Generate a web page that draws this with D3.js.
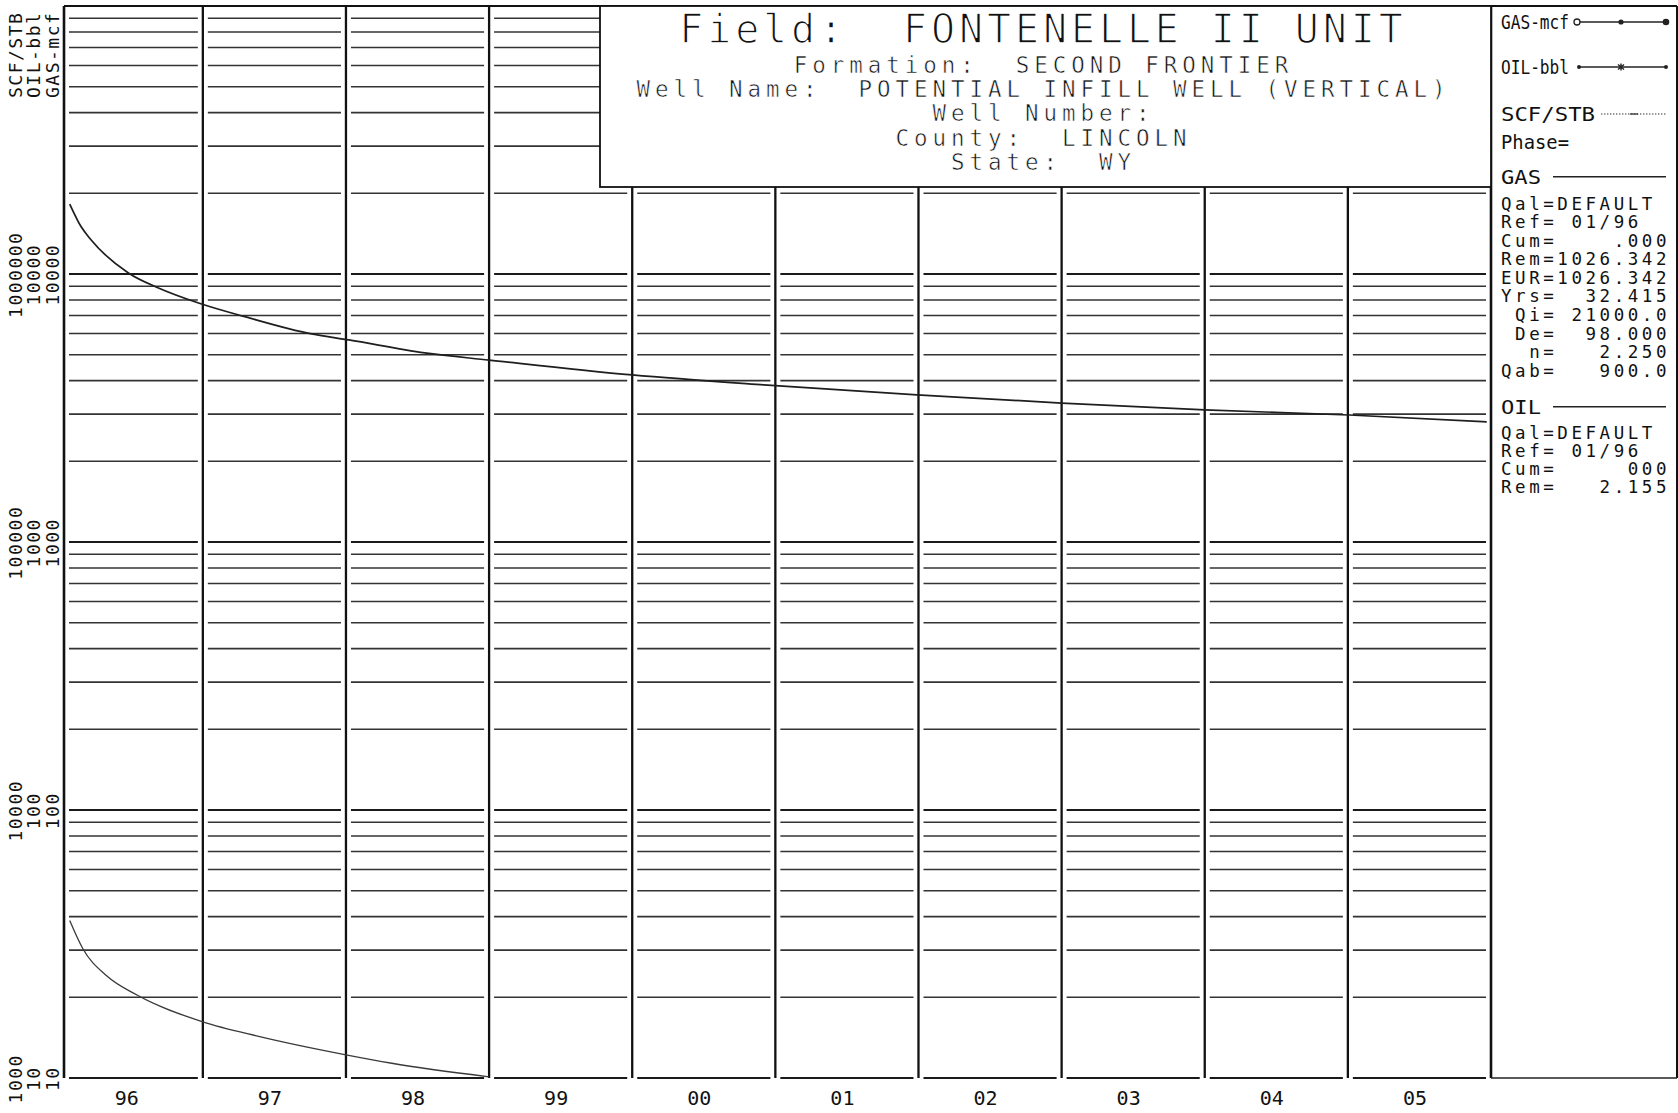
<!DOCTYPE html>
<html><head><meta charset="utf-8">
<script src="https://cdn.jsdelivr.net/npm/d3@7"></script>
<style>
html,body{margin:0;padding:0;background:#fff;}
svg{display:block;}
text{font-family:'DejaVu Sans Mono',monospace;white-space:pre;fill:#111;}
</style></head><body>
<svg id="chart" width="1678" height="1113"></svg>
<script>
// ---------------- data ----------------
const years = [1996,1997,1998,1999,2000,2001,2002,2003,2004,2005];
const yearLabels = ["96","97","98","99","00","01","02","03","04","05"];

const gasYears = [1996.07,1996.15,1996.22,1996.48,1996.69,1996.97,1997.30,1997.76,1998.02,1998.55,1999.00,2000.00,2000.92,2001.99,2003.00,2004.00,2005.01,2005.97];
const gasRates = [18240,15000,13390,10090,8870,7795,6915,5975,5675,5075,4775,4200,3855,3540,3300,3110,2978,2805];

const oilYears = [1996.07,1996.16,1996.33,1996.54,1997.00,1997.39,1998.00,1998.32,1999.00];
const oilRates = [38.7,30.5,24.0,20.4,16.2,14.3,12.2,11.35,10.1];

const ratioTickValues = [1e3,1e4,1e5,1e6];
const ratioTickLabels = ["1000","10000","100000","1000000"];
const oilTickValues = [10,100,1000,10000];
const oilTickLabels = ["10","100","1000","10000"];
const gasTickValues = [10,100,1000,10000];
const gasTickLabels = ["10","100","1000","10000"];
const axisNames = ["SCF/STB","OIL-bbl","GAS-mcf"];

const titleLines = ["Field:  FONTENELLE II UNIT","Formation:  SECOND FRONTIER","Well Name:  POTENTIAL INFILL WELL (VERTICAL)","Well Number:","County:  LINCOLN","State:  WY"];
const legendHeaders = ["GAS-mcf","OIL-bbl","SCF/STB","Phase="];
const gasStats = ["Qal=DEFAULT","Ref= 01/96","Cum=    .000","Rem=1026.342","EUR=1026.342","Yrs=  32.415"," Qi= 21000.0"," De=  98.000","  n=   2.250","Qab=   900.0"];
const oilStats = ["Qal=DEFAULT","Ref= 01/96","Cum=     000","Rem=   2.155"];

// ---------------- layout ----------------
const L=64, R=1491, T=6, B=1078, PR=1677;
const svg = d3.select('#chart');
svg.append('rect').attr('width',1678).attr('height',1113).attr('fill','#fff');

const x = d3.scaleLinear().domain([1996.03,2006]).range([L,R]);
const y = d3.scaleLog().domain([10,1e5]).range([B,T]);
const yR = d3.scaleLog().domain([1e3,1e7]).range([B,T]);

// horizontal grid, broken at each year line
const bounds = [L, ...years.slice(1).map(d=>x(d)), R];
const gap = 5;
const gGrid = svg.append('g');
y.ticks().filter(v=>v<1e5*0.999).forEach(v=>{
  const lg = Math.log10(v);
  const isDec = Math.abs(lg-Math.round(lg))<1e-6;
  for(let i=0;i<bounds.length-1;i++){
    gGrid.append('line')
      .attr('x1',bounds[i]+gap).attr('x2',bounds[i+1]-gap)
      .attr('y1',y(v)).attr('y2',y(v))
      .attr('stroke',isDec?'#1a1a1a':'#333')
      .attr('stroke-width',isDec?2.1:1.6);
  }
});

// year lines
const gV = svg.append('g');
years.slice(1).forEach(yr=>{
  gV.append('line').attr('x1',x(yr)).attr('x2',x(yr)).attr('y1',T).attr('y2',B)
    .attr('stroke','#111').attr('stroke-width',2.3);
});
// frame
gV.append('line').attr('x1',L).attr('x2',L).attr('y1',T).attr('y2',B).attr('stroke','#111').attr('stroke-width',2.6);
gV.append('line').attr('x1',R).attr('x2',R).attr('y1',T).attr('y2',B).attr('stroke','#111').attr('stroke-width',2.6);
gV.append('line').attr('x1',PR).attr('x2',PR).attr('y1',T).attr('y2',B).attr('stroke','#111').attr('stroke-width',2);
gV.append('line').attr('x1',L).attr('x2',PR).attr('y1',T).attr('y2',T).attr('stroke','#111').attr('stroke-width',2.2);
gV.append('line').attr('x1',R).attr('x2',PR).attr('y1',B).attr('y2',B).attr('stroke','#222').attr('stroke-width',1.6);

// curves
const line = d3.line().x(d=>x(d[0])).y(d=>y(d[1])).curve(d3.curveMonotoneX);
svg.append('path').datum(gasYears.map((t,i)=>[t,gasRates[i]]))
  .attr('d',line).attr('fill','none').attr('stroke','#1e1e1e').attr('stroke-width',1.7);
svg.append('path').datum(oilYears.map((t,i)=>[t,oilRates[i]]))
  .attr('d',line).attr('fill','none').attr('stroke','#3a3a3a').attr('stroke-width',1.3);

// title box
const boxL = 600, boxB = 187, cx = 1041;
svg.append('rect').attr('x',boxL).attr('y',T).attr('width',R-boxL).attr('height',boxB-T)
  .attr('fill','#fff').attr('stroke','#111').attr('stroke-width',1.8);
const titleBase = [43,72.8,97.3,121.3,146.3,169.8];
titleLines.forEach((s,i)=>{
  const big = i===0;
  const ls = big?3.9:4.95;
  svg.append('text').text(s)
    .attr('x',cx+ls/2).attr('y',titleBase[i])
    .attr('text-anchor','middle')
    .style('font-size',(big?40:22.5)+'px')
    .style('letter-spacing',ls+'px')
    .attr('stroke','#fff').attr('stroke-width',big?1.4:0.6);
});

// x axis labels
const xAxis = d3.axisBottom(x)
  .tickValues(years.map(d=>d+0.465))
  .tickFormat((d,i)=>yearLabels[i])
  .tickSize(0).tickPadding(0);
const gx = svg.append('g').attr('transform',`translate(0,${B})`).call(xAxis);
gx.select('.domain').remove();
gx.selectAll('text').attr('y',27).attr('dy',0)
  .style('font-size','20px').style('font-family',"'DejaVu Sans Mono',monospace").attr('fill','#111');

// y labels (rotated)
const colX = [15,33,52];
const tickFont = 18, tickLS = 1.5;
function rotLabel(cxp, cy, s, anchor){
  svg.append('text').text(s)
    .attr('transform',`translate(${cxp+6.5},${cy}) rotate(-90)`)
    .attr('text-anchor',anchor)
    .style('font-size',tickFont+'px').style('letter-spacing',tickLS+'px');
}
ratioTickValues.forEach((v,i)=>rotLabel(colX[0], yR(v)+tickLS/2, ratioTickLabels[i],'middle'));
oilTickValues.forEach((v,i)=>rotLabel(colX[1], y(v)+tickLS/2, oilTickLabels[i],'middle'));
gasTickValues.forEach((v,i)=>rotLabel(colX[2], y(v)+tickLS/2, gasTickLabels[i],'middle'));
axisNames.forEach((s,i)=>rotLabel(colX[i], 98, s, 'start'));

// legend panel
const lx = 1501;
const headY = [22,67,114,141.5];
const headW = [68,68,94,68];
legendHeaders.forEach((s,i)=>{
  svg.append('text').text(s).attr('x',lx).attr('y',headY[i]+7)
    .style('font-size','19px')
    .attr('textLength',headW[i]).attr('lengthAdjust','spacingAndGlyphs');
});
// GAS-mcf marker
svg.append('line').attr('x1',1579).attr('x2',1666).attr('y1',22).attr('y2',22).attr('stroke','#222').attr('stroke-width',1.3);
svg.append('circle').attr('cx',1577).attr('cy',22).attr('r',3).attr('fill','#fff').attr('stroke','#222').attr('stroke-width',1.3);
svg.append('circle').attr('cx',1621).attr('cy',22).attr('r',2.6).attr('fill','#222');
svg.append('circle').attr('cx',1666).attr('cy',22).attr('r',3.3).attr('fill','#222');
// OIL-bbl marker
svg.append('line').attr('x1',1579).attr('x2',1666).attr('y1',67).attr('y2',67).attr('stroke','#222').attr('stroke-width',1.3);
svg.append('circle').attr('cx',1579).attr('cy',67).attr('r',2).attr('fill','#222');
svg.append('path').attr('d','M1618,64.5L1624,69.5M1624,64.5L1618,69.5M1621,63.5V70.5').attr('stroke','#222').attr('stroke-width',1.4);
svg.append('circle').attr('cx',1666).attr('cy',67).attr('r',2).attr('fill','#222');
// SCF/STB marker
svg.append('line').attr('x1',1601).attr('x2',1666).attr('y1',114).attr('y2',114).attr('stroke','#333').attr('stroke-width',1.2).attr('stroke-dasharray','1.4,1.6');
svg.append('line').attr('x1',1630).attr('x2',1638).attr('y1',114).attr('y2',114).attr('stroke','#333').attr('stroke-width',1.3);

// GAS block
svg.append('text').text('GAS').attr('x',lx).attr('y',176.7+7).style('font-size','19px').attr('textLength',40).attr('lengthAdjust','spacingAndGlyphs');
svg.append('line').attr('x1',1553).attr('x2',1666).attr('y1',176.7).attr('y2',176.7).attr('stroke','#222').attr('stroke-width',1.4);
gasStats.forEach((s,i)=>{
  svg.append('text').text(s).attr('x',lx).attr('y',203.3+18.55*i+6.4)
    .style('font-size','17.5px').style('letter-spacing','3.55px');
});
// OIL block
svg.append('text').text('OIL').attr('x',lx).attr('y',406.7+7).style('font-size','19px').attr('textLength',40).attr('lengthAdjust','spacingAndGlyphs');
svg.append('line').attr('x1',1553).attr('x2',1666).attr('y1',406.7).attr('y2',406.7).attr('stroke','#222').attr('stroke-width',1.4);
oilStats.forEach((s,i)=>{
  svg.append('text').text(s).attr('x',lx).attr('y',432.4+18.2*i+6.4)
    .style('font-size','17.5px').style('letter-spacing','3.55px');
});
</script>
</body></html>
